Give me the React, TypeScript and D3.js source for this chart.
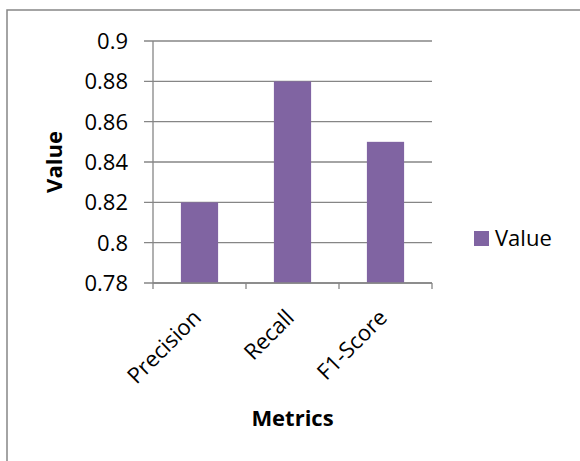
import React from 'react';
import * as d3 from 'd3';

const categories = ['Precision', 'Recall', 'F1-Score'];
const values = [0.82, 0.88, 0.85];
const yTicks = [0.78, 0.8, 0.82, 0.84, 0.86, 0.88, 0.9];
const seriesName = 'Value';

const width = 580;
const height = 461;
const margin = { top: 41, right: 148, bottom: 178, left: 153 };
const barColor = '#8064A2';
const gridColor = '#868686';
const font = '"Open Sans", Lato, sans-serif';
const fontSize = 22;

const App: React.FC = () => {
  const x = d3.scaleBand<string>()
    .domain(categories)
    .range([margin.left, width - margin.right])
    .paddingInner(0.6)
    .paddingOuter(0.3);

  const y = d3.scaleLinear()
    .domain([0.78, 0.9])
    .range([height - margin.bottom, margin.top]);

  const x0 = margin.left;
  const x1 = width - margin.right;
  const yBase = y(0.78);
  const step = (x1 - x0) / categories.length;

  return (
    <svg width={width} height={height} style={{ position: 'absolute', left: 0, top: 0, background: '#fff' }}>
      {/* chart frame, cut off on the right and bottom */}
      <rect x={7} y={10} width={700} height={600} fill="#fff" stroke={gridColor} strokeWidth={1.5} />

      {/* gridlines + y ticks */}
      {yTicks.map(t => (
        <g key={t}>
          <line x1={x0 - 9} x2={x1} y1={y(t)} y2={y(t)} stroke={gridColor} strokeWidth={1.3} />
          <text x={128} y={y(t)} dy="0.36em" textAnchor="end" fontFamily={font} fontSize={fontSize} fill="#000">
            {d3.format('')(t)}
          </text>
        </g>
      ))}

      {/* bars */}
      {categories.map((c, i) => (
        <rect key={c} x={x(c)} y={y(values[i])} width={x.bandwidth()} height={yBase - y(values[i])} fill={barColor} />
      ))}

      {/* axes */}
      <line x1={x0} x2={x0} y1={y(0.9)} y2={yBase} stroke={gridColor} strokeWidth={1.3} />
      <line x1={x0} x2={x1} y1={yBase} y2={yBase} stroke={gridColor} strokeWidth={1.3} />
      {d3.range(categories.length + 1).map(i => (
        <line key={i} x1={x0 + i * step} x2={x0 + i * step} y1={yBase} y2={yBase + 6} stroke={gridColor} strokeWidth={1.3} />
      ))}

      {/* x labels */}
      {categories.map(c => {
        const cx = (x(c) ?? 0) + x.bandwidth() / 2 + 3;
        const cy = 319;
        return (
          <text key={c} transform={`translate(${cx},${cy}) rotate(-45)`} textAnchor="end"
            fontFamily={font} fontSize={fontSize} fill="#000">{c}</text>
        );
      })}

      {/* axis titles */}
      <text transform={`translate(62,${(y(0.9) + yBase) / 2}) rotate(-90)`} textAnchor="middle"
        fontFamily={font} fontSize={fontSize} fontWeight="bold" fill="#000">Value</text>
      <text x={292.5} y={426} textAnchor="middle" fontFamily={font} fontSize={fontSize} fontWeight="bold" fill="#000">Metrics</text>

      {/* legend */}
      <rect x={474} y={231} width={15} height={15} fill={barColor} />
      <text x={495} y={246} fontFamily={font} fontSize={fontSize} fill="#000">{seriesName}</text>
    </svg>
  );
};

export default App;
